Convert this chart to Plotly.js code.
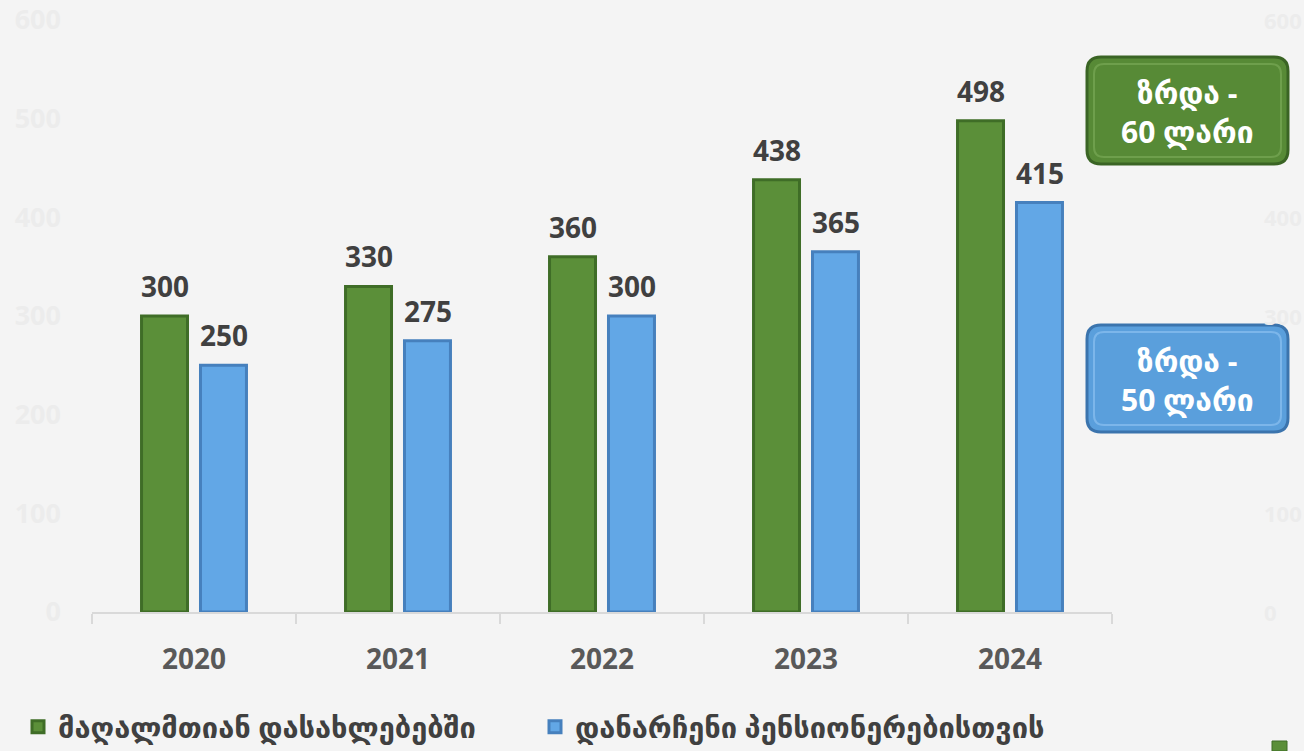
<!DOCTYPE html>
<html>
<head>
<meta charset="utf-8">
<script src="https://cdn.plot.ly/plotly-3.0.1.min.js"></script>
<style>html,body{margin:0;padding:0;background:#f4f4f4;}#chart{width:1304px;height:751px;}</style>
</head>
<body>
<div id="chart"></div>
<script>
const years = ["2020", "2021", "2022", "2023", "2024"];
const mountainValues = [300, 330, 360, 438, 498];
const otherValues = [250, 275, 300, 365, 415];
const seriesNames = ["მაღალმთიან დასახლებებში", "დანარჩენი პენსიონერებისთვის"];
const yTicks = [0, 100, 200, 300, 400, 500, 600];
const rightTicksVisible = [0, 100, 300, 400, 600];
const boxTexts = ["ზრდა -<br>60 ლარი", "ზრდა -<br>50 ლარი"];

const W = 1304, H = 751;
const M = {l: 92, r: 192, t: 20, b: 139, autoexpand: false};
const PW = W - M.l - M.r, PH = H - M.t - M.b;
const FONT = "Open Sans, DejaVu Sans, sans-serif";

function px2x(p) { return (p - M.l) / PW; }
function px2y(p) { return (H - M.b - p) / PH; }
function roundRect(x0, y0, x1, y1, r) {
  const X0 = px2x(x0), X1 = px2x(x1), Y0 = px2y(y0), Y1 = px2y(y1);
  const rx = r / PW, ry = r / PH;
  return `M${X0 + rx},${Y0} L${X1 - rx},${Y0} Q${X1},${Y0} ${X1},${Y0 - ry} L${X1},${Y1 + ry} Q${X1},${Y1} ${X1 - rx},${Y1} L${X0 + rx},${Y1} Q${X0},${Y1} ${X0},${Y1 + ry} L${X0},${Y0 - ry} Q${X0},${Y0} ${X0 + rx},${Y0} Z`;
}

const green = "#5b8f39", greenDark = "#3f6d27";
const blue = "#62a7e6", blueDark = "#4680bd";

const traces = [
  {type: "bar", x: years, y: mountainValues, name: seriesNames[0], legend: "legend",
   marker: {color: green, line: {color: greenDark, width: 3}}, hoverinfo: "skip"},
  {type: "bar", x: years, y: otherValues, name: seriesNames[1], legend: "legend2",
   marker: {color: blue, line: {color: blueDark, width: 3}}, hoverinfo: "skip"}
];

const annotations = [];
// faint right-side axis labels (partly hidden behind the boxes in the reference)
rightTicksVisible.forEach(t => {
  annotations.push({xref: "paper", yref: "y", x: px2x(1262), y: t, text: String(t), showarrow: false,
    xanchor: "left", yanchor: "middle", font: {family: FONT, size: 22, color: "#ececec", weight: "bold"}});
});
[mountainValues, otherValues].forEach((vals, si) => {
  vals.forEach((v, i) => {
    annotations.push({x: i, y: v, xref: "x", yref: "y", text: String(v),
      showarrow: false, xshift: si === 0 ? -29.5 : 29.5, yshift: 30, yanchor: "middle",
      font: {family: FONT, size: 28, color: "#404040", weight: "bold"}});
  });
});

const boxes = [
  {y0: 57, y1: 164, fill: "#578a36", line: "#3a6424", hi: "#6e9f4c", text: boxTexts[0]},
  {y0: 325, y1: 432, fill: "#5a9fdc", line: "#3b74ad", hi: "#7cb6ea", text: boxTexts[1]}
];
const shapes = [];
boxes.forEach(b => {
  shapes.push({type: "path", xref: "paper", yref: "paper", path: roundRect(1087, b.y0, 1288, b.y1, 14),
    fillcolor: b.fill, line: {color: b.line, width: 3}, layer: "above"});
  shapes.push({type: "path", xref: "paper", yref: "paper", path: roundRect(1094, b.y0 + 7, 1281, b.y1 - 7, 10),
    fillcolor: "rgba(0,0,0,0)", line: {color: b.hi, width: 2}, layer: "above"});
  annotations.push({xref: "paper", yref: "paper", x: px2x(1187.5), y: px2y((b.y0 + b.y1) / 2 + 1),
    text: b.text, showarrow: false, align: "center", xanchor: "center", yanchor: "middle",
    font: {family: FONT, size: 30, color: "#ffffff", weight: "bold"}});
});
// small clipped legend swatch at the bottom-right corner of the reference
shapes.push({type: "rect", xref: "paper", yref: "paper", x0: px2x(1272), x1: px2x(1287),
  y0: px2y(751), y1: px2y(741), fillcolor: green, line: {color: greenDark, width: 1}});

const legendFont = {family: FONT, size: 29, color: "#404040", weight: "bold"};
const layout = {
  width: W, height: H,
  margin: M,
  paper_bgcolor: "#f4f4f4", plot_bgcolor: "#f4f4f4",
  barmode: "group", bargap: 0.422, bargroupgap: 0.22,
  showlegend: true,
  legend: {orientation: "h", x: px2x(18), xanchor: "left", y: px2y(727), yanchor: "middle",
    font: legendFont, bgcolor: "rgba(0,0,0,0)"},
  legend2: {orientation: "h", x: px2x(535), xanchor: "left", y: px2y(727), yanchor: "middle",
    font: legendFont, bgcolor: "rgba(0,0,0,0)"},
  xaxis: {type: "category", categoryorder: "array", categoryarray: years, range: [-0.5, 4.5],
    showline: true, linecolor: "#d9d9d9", linewidth: 1.5,
    ticks: "outside", tickson: "boundaries", ticklen: 10, tickcolor: "#d9d9d9", tickwidth: 1.5,
    ticklabelstandoff: 22, showgrid: false, zeroline: false, tickangle: 0,
    tickfont: {family: FONT, size: 28, color: "#595959", weight: "bold"}},
  yaxis: {range: [0, 600], tickvals: yTicks, showgrid: false, zeroline: false, showline: false,
    ticklabelstandoff: 30,
    tickfont: {family: FONT, size: 27, color: "#ececec", weight: "bold"}},
  annotations: annotations,
  shapes: shapes
};

Plotly.newPlot("chart", traces, layout, {displayModeBar: false, staticPlot: true});
</script>
</body>
</html>
